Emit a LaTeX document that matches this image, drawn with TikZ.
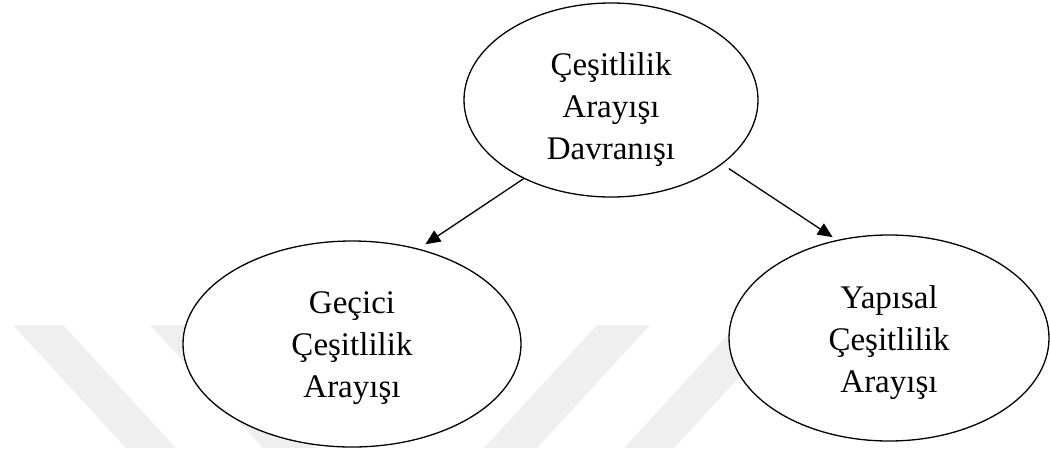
\documentclass[tikz,border=0pt]{standalone}
\usepackage{fontspec}
\setmainfont{Liberation Serif}
\usetikzlibrary{arrows.meta,shapes.geometric}

\definecolor{wmark}{HTML}{EFEFEF}

\tikzset{
  oval/.style={ellipse, draw=black, line width=1.3pt, fill=white, inner sep=0pt},
  ovaltext/.style={align=center, inner sep=0pt, font=\fontsize{33}{42}\selectfont},
  link/.style={line width=1.3pt, -{Triangle[length=15pt,width=13pt]}},
  band/.style={fill=wmark, draw=none}
}

\begin{document}
\begin{tikzpicture}[x=1pt, y=-1pt]
\useasboundingbox (0,0) rectangle (1050,448);

% faint diagonal bands in the background
\fill[band] (13,325) -- (63,325) -- (176,448) -- (126,448) -- cycle;
\fill[band] (150,325) -- (203,325) -- (316,448) -- (263,448) -- cycle;
\fill[band] (597,325) -- (650,325) -- (537,448) -- (484,448) -- cycle;
\fill[band] (737,325) -- (787,325) -- (674,448) -- (624,448) -- cycle;

% the three concepts
\node[oval, minimum width=294pt, minimum height=194pt,
  label={[ovaltext, yshift=-10pt]center:Çeşitlilik\\Arayışı\\Davranışı}] (top) at (611,100) {};
\node[oval, minimum width=338pt, minimum height=206pt,
  label={[ovaltext, yshift=-4pt]center:Geçici\\Çeşitlilik\\Arayışı}] (gec) at (352,344) {};
\node[oval, minimum width=320pt, minimum height=206pt,
  label={[ovaltext, yshift=-5pt]center:Yapısal\\Çeşitlilik\\Arayışı}] (yap) at (889,338) {};

% links from the general behaviour to its two kinds
\draw[link, shorten >=8pt] (top.222) -- (gec.55);
\draw[link, shorten <=8pt, shorten >=5pt] (top.330) -- (yap.118);
\end{tikzpicture}
\end{document}
